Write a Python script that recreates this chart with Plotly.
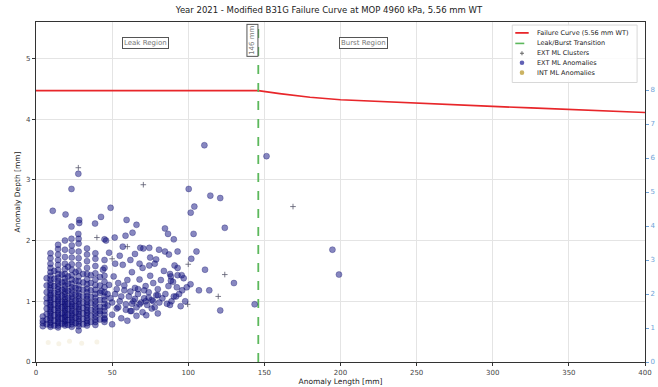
import plotly.graph_objects as go

# ---------------- data ----------------
curve_len = [0, 146, 160, 180, 200, 225, 250, 275, 300, 325, 350, 375, 400]
curve_depth = [4.47, 4.47, 4.42, 4.36, 4.32, 4.29, 4.26, 4.235, 4.21, 4.185, 4.16, 4.135, 4.11]

transition_len = 146

col_lengths = [4.5, 9.5, 14.5, 19, 23.5, 28, 33.5, 39, 45,
               7, 12, 17, 21, 26, 31, 36, 42]
col_depths = [
    [0.59, 0.64, 0.68, 0.75],
    [0.58, 0.61, 0.65, 0.69, 0.72, 0.76, 0.8, 0.83, 0.87, 0.91, 0.94, 0.98, 1.02, 1.06, 1.1, 1.13,
     1.18, 1.22, 1.27, 1.31, 1.36, 1.42, 1.48, 1.55, 1.62, 1.71, 1.79],
    [0.57, 0.6, 0.64, 0.67, 0.71, 0.74, 0.78, 0.81, 0.85, 0.89, 0.92, 0.96, 1.0, 1.03, 1.07, 1.11,
     1.15, 1.2, 1.24, 1.29, 1.34, 1.39, 1.45, 1.52, 1.6, 1.68, 1.77, 1.86, 1.93],
    [0.6, 0.63, 0.67, 0.7, 0.74, 0.77, 0.81, 0.85, 0.88, 0.92, 0.96, 0.99, 1.03, 1.07, 1.12, 1.16,
     1.21, 1.26, 1.32, 1.38, 1.45, 1.53, 1.62, 1.73, 1.85, 2.0],
    [0.58, 0.62, 0.66, 0.69, 0.73, 0.77, 0.8, 0.84, 0.88, 0.92, 0.95, 0.99, 1.04, 1.08, 1.13, 1.18,
     1.23, 1.29, 1.36, 1.43, 1.52, 1.61, 1.72, 1.83, 1.92],
    [0.52, 0.59, 0.63, 0.67, 0.71, 0.75, 0.79, 0.83, 0.87, 0.91, 0.95, 1.0, 1.04, 1.09, 1.14, 1.2,
     1.26, 1.33, 1.41, 1.5, 1.6, 1.71, 1.82, 1.95, 2.03],
    [0.6, 0.64, 0.68, 0.72, 0.77, 0.81, 0.85, 0.9, 0.94, 0.99, 1.04, 1.09, 1.15, 1.21, 1.28, 1.36,
     1.45, 1.55, 1.66, 1.77, 1.87],
    [0.61, 0.66, 0.7, 0.75, 0.8, 0.85, 0.9, 0.95, 1.0, 1.06, 1.12, 1.19, 1.27, 1.36, 1.46, 1.58, 1.7, 1.79],
    [0.66, 0.72, 0.78, 0.84, 0.9, 0.96, 1.02, 1.08, 1.15, 1.23, 1.32, 1.42, 1.55, 1.68],
    [0.62, 0.7, 0.79, 0.88, 0.97, 1.05, 1.15, 1.26, 1.38],
    [0.6, 0.68, 0.77, 0.86, 0.95, 1.04, 1.14, 1.25, 1.37, 1.5],
    [0.63, 0.72, 0.8, 0.9, 0.99, 1.09, 1.19, 1.31, 1.44],
    [0.61, 0.69, 0.78, 0.87, 0.96, 1.06, 1.17, 1.29, 1.41, 1.57],
    [0.64, 0.73, 0.82, 0.92, 1.01, 1.11, 1.22, 1.34, 1.48],
    [0.62, 0.71, 0.8, 0.89, 0.98, 1.08, 1.19, 1.31, 1.45],
    [0.66, 0.76, 0.86, 0.97, 1.07, 1.18, 1.3, 1.43],
    [0.7, 0.8, 0.91, 1.02, 1.14, 1.26, 1.4],
]

scatter_len = [42, 43, 44, 47, 48, 49, 50, 51, 52, 53, 54, 55, 56, 57, 58, 59, 60, 61, 62, 63, 64, 65,
               66, 67, 68, 69, 70, 71, 72, 73, 74, 75, 76, 77, 78, 79, 80, 81, 82, 83, 84, 85, 86, 87,
               89, 90, 92, 94, 96, 98, 97, 95, 93, 55, 62, 68, 48, 52, 46, 57, 65, 75, 60, 70, 80, 45,
               50, 66, 78, 88,
               47, 50, 53, 56, 59, 62, 65, 68, 71, 74, 77, 80, 54, 58, 63, 67, 72, 76]
scatter_depth = [0.84, 1.17, 1.52, 0.93, 1.27, 1.05, 0.78, 1.41, 1.12, 0.88, 1.3, 1.0, 0.72, 1.6, 1.18,
                 0.95, 1.35, 1.08, 0.84, 1.48, 1.0, 1.22, 0.9, 1.12, 1.36, 0.98, 1.55, 1.05, 1.25, 0.94,
                 1.15, 1.42, 1.02, 1.3, 0.9, 1.1, 1.2, 0.98, 1.35, 1.05, 1.5, 1.12, 0.96, 1.25, 1.0,
                 1.32, 1.08, 1.12, 1.18, 1.0, 1.38, 0.92, 1.55, 1.75, 1.68, 1.62, 1.8, 1.62, 2.0, 1.9,
                 1.78, 1.72, 0.68, 0.82, 0.8, 0.7, 0.62, 0.76, 1.62, 1.45,
                 1.12, 0.98, 1.2, 1.08, 0.86, 1.16, 1.04, 0.95, 1.18, 1.06, 1.0, 1.1, 0.9, 1.26, 0.96,
                 1.2, 1.0, 0.88]

outlier_len = [11, 19.4, 23.3, 27.8, 23.3, 28.4, 28.4, 38.8, 42.7, 49, 27.8, 23.3, 59.5, 66, 84.7, 86.7,
               90.5, 63.4, 58.8, 51.7, 45, 105.4, 102, 93, 80.8, 84.7, 87.3, 68.5, 70.5, 74.4, 78.9,
               74.4, 91, 111, 130, 121, 113.8, 107, 101.5, 99, 93, 95.7, 92.5, 88.6, 88.6, 90.5, 88,
               72.4, 62.7, 110.6, 151.4, 100.3, 114.5, 121, 104, 101.6, 124, 103.5, 194.7, 199, 143.6]
outlier_depth = [2.49, 2.43, 2.85, 3.1, 2.23, 2.34, 2.29, 2.28, 2.39, 2.54, 2.11, 2.03, 2.34, 2.26, 2.2,
                 2.11, 2.02, 2.13, 2.08, 2.05, 2.02, 1.82, 1.7, 1.82, 1.85, 1.82, 1.77, 1.88, 1.87, 1.88,
                 1.69, 1.59, 1.59, 1.52, 1.3, 0.85, 1.18, 1.18, 1.28, 1.23, 1.43, 1.43, 1.23, 1.41, 1.34,
                 1.08, 0.94, 0.77, 0.84, 3.57, 3.39, 2.85, 2.74, 2.7, 2.56, 2.46, 2.21, 2.11, 1.85, 1.44,
                 0.95]

cluster_len = [27.8, 70.5, 168.8, 100, 124, 119.7, 99.6, 40, 60, 50]
cluster_depth = [3.2, 2.92, 2.56, 1.61, 1.44, 1.08, 0.95, 2.05, 1.9, 1.7]

int_len = [8, 15, 22, 30, 40]
int_depth = [0.32, 0.3, 0.34, 0.31, 0.33]

x_ticks = [0, 50, 100, 150, 200, 250, 300, 350, 400]
y_ticks = [0, 1, 2, 3, 4, 5]
y2_ticks = [0, 1, 2, 3, 4, 5, 6, 7, 8]

legend_names = ["Failure Curve (5.56 mm WT)", "Leak/Burst Transition", "EXT ML Clusters",
                "EXT ML Anomalies", "INT ML Anomalies"]

# ---------------- build ----------------
ext_len, ext_depth = [], []
for L, ds in zip(col_lengths, col_depths):
    for d in ds:
        ext_len.append(L)
        ext_depth.append(d)
ext_len += scatter_len + outlier_len
ext_depth += scatter_depth + outlier_depth

FONT = "DejaVu Sans"
RED = "#e8262a"
GREEN = "#5cb85c"
NAVY = "rgba(15,15,130,0.5)"
NAVY_EDGE = "rgba(10,10,100,0.6)"
OLIVE = "rgba(190,160,60,0.12)"

fig = go.Figure()
fig.add_trace(go.Scatter(x=curve_len, y=curve_depth, mode="lines",
                         line=dict(color=RED, width=1.6), name=legend_names[0]))
fig.add_trace(go.Scatter(x=[transition_len, transition_len], y=[0, 5.6], mode="lines",
                         line=dict(color=GREEN, width=1.8, dash="dash"), name=legend_names[1]))
fig.add_trace(go.Scatter(x=cluster_len, y=cluster_depth, mode="markers",
                         marker=dict(symbol="cross-thin", size=4,
                                     line=dict(color="rgba(90,90,110,0.8)", width=1)),
                         name=legend_names[2]))
fig.add_trace(go.Scatter(x=ext_len, y=ext_depth, mode="markers",
                         marker=dict(color=NAVY, size=6, line=dict(color=NAVY_EDGE, width=0.5)),
                         name=legend_names[3]))
fig.add_trace(go.Scatter(x=int_len, y=int_depth, mode="markers",
                         marker=dict(color=OLIVE, size=5), name=legend_names[4]))
fig.add_trace(go.Scatter(x=[0], y=[0], yaxis="y2", mode="markers",
                         marker=dict(opacity=0), showlegend=False, hoverinfo="skip"))

# region annotations
box = dict(showarrow=False, font=dict(family=FONT, size=7, color="#777"),
           bgcolor="white", bordercolor="#555", borderwidth=1, borderpad=1)
fig.add_annotation(x=72, y=5.25, text="Leak Region", **box)
fig.add_annotation(x=215, y=5.25, text="Burst Region", **box)
fig.add_annotation(x=142.3, y=5.3, text="146 mm", textangle=-90, **box)

# compact legend (paper coordinates)
L_X0, L_X1, L_Y1, L_Y0 = 0.782, 0.987, 0.991, 0.822
ys = [0.968, 0.937, 0.908, 0.880, 0.851]
sx0, sx1, mx, tx = 0.787, 0.809, 0.798, 0.819
fig.add_shape(type="rect", xref="paper", yref="paper", x0=L_X0, x1=L_X1, y0=L_Y0, y1=L_Y1,
              line=dict(color="#d8d8d8", width=1), fillcolor="rgba(255,255,255,0.85)", layer="above")
fig.add_shape(type="line", xref="paper", yref="paper", x0=sx0, x1=sx1, y0=ys[0], y1=ys[0],
              line=dict(color=RED, width=1.8), layer="above")
fig.add_shape(type="line", xref="paper", yref="paper", x0=sx0, x1=sx1, y0=ys[1], y1=ys[1],
              line=dict(color=GREEN, width=1.6, dash="dash"), layer="above")
fig.add_shape(type="line", xref="paper", yref="paper", xsizemode="pixel", ysizemode="pixel",
              xanchor=mx, yanchor=ys[2], x0=-2, x1=2, y0=0, y1=0,
              line=dict(color="#666", width=1), layer="above")
fig.add_shape(type="line", xref="paper", yref="paper", xsizemode="pixel", ysizemode="pixel",
              xanchor=mx, yanchor=ys[2], x0=0, x1=0, y0=-2, y1=2,
              line=dict(color="#666", width=1), layer="above")
fig.add_shape(type="circle", xref="paper", yref="paper", xsizemode="pixel", ysizemode="pixel",
              xanchor=mx, yanchor=ys[3], x0=-2.3, x1=2.3, y0=-2.3, y1=2.3,
              fillcolor="rgba(30,30,150,0.7)", line=dict(width=0), layer="above")
fig.add_shape(type="circle", xref="paper", yref="paper", xsizemode="pixel", ysizemode="pixel",
              xanchor=mx, yanchor=ys[4], x0=-2.3, x1=2.3, y0=-2.3, y1=2.3,
              fillcolor="rgba(190,160,60,0.8)", line=dict(width=0), layer="above")
for name, yy in zip(legend_names, ys):
    fig.add_annotation(xref="paper", yref="paper", x=tx, y=yy, text=name, showarrow=False,
                       xanchor="left", yanchor="middle",
                       font=dict(family=FONT, size=6.5, color="#222"))

axis_common = dict(showline=True, linecolor="#333", linewidth=1.2, mirror=True,
                   gridcolor="#e4e4e4", gridwidth=1, ticks="outside", ticklen=3,
                   tickcolor="#333", zeroline=False,
                   tickfont=dict(family=FONT, size=7, color="#444"))

fig.update_layout(
    width=658, height=387,
    margin=dict(l=36, r=3, t=22, b=23),
    paper_bgcolor="white", plot_bgcolor="white",
    title=dict(text="Year 2021 - Modified B31G Failure Curve at MOP 4960 kPa, 5.56 mm WT",
               x=0.5, xref="container", y=0.974, yref="container", yanchor="middle",
               font=dict(family=FONT, size=8.5, color="#222")),
    xaxis=dict(range=[0, 400], tickvals=x_ticks,
               title=dict(text="Anomaly Length [mm]", standoff=2,
                          font=dict(family=FONT, size=7.5, color="#222")),
               **axis_common),
    yaxis=dict(range=[0, 5.6], tickvals=y_ticks,
               title=dict(text="Anomaly Depth [mm]", standoff=4,
                          font=dict(family=FONT, size=7.5, color="#222")),
               **axis_common),
    yaxis2=dict(overlaying="y", side="right", range=[0, 10], tickvals=y2_ticks,
                showgrid=False, zeroline=False, ticks="outside", ticklen=3,
                tickcolor="#6fa3d8", tickfont=dict(family=FONT, size=7, color="#6fa3d8"),
                showline=False),
    showlegend=False,
)

fig.write_html("out.html")
